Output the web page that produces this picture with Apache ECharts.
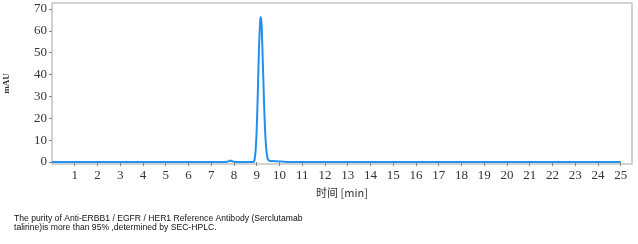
<!DOCTYPE html>
<html>
<head>
<meta charset="utf-8">
<script src="https://cdn.jsdelivr.net/npm/echarts@6/dist/echarts.min.js"></script>
<style>
html,body{margin:0;padding:0;background:#fff;}
#chart{width:638px;height:244px;}
</style>
</head>
<body>
<div id="chart"></div>
<script>
// Retention time (min) and absorbance (mAU)
var timeMin = [0, 7.5, 7.7, 7.8, 7.85, 7.9, 8.0, 8.2, 8.85, 8.9, 8.95, 9.0, 9.05, 9.1, 9.15, 9.18, 9.22, 9.27, 9.32, 9.37, 9.42, 9.47, 9.52, 9.6, 9.8, 10.0, 10.2, 10.4, 25];
var absorbance = [0, 0, 0.15, 0.5, 0.7, 0.5, 0.15, 0, 0, 0.8, 5, 15, 32, 52, 64, 66.3, 62, 45, 28, 14, 6, 2, 0.8, 0.5, 0.4, 0.3, 0.1, 0, 0];
var xTicks = [1,2,3,4,5,6,7,8,9,10,11,12,13,14,15,16,17,18,19,20,21,22,23,24,25];
var yTicks = [0,10,20,30,40,50,60,70];
var xName = '时间 [min]';
var yName = 'mAU';
var caption = ['The purity of Anti-ERBB1 / EGFR / HER1 Reference Antibody (Serclutamab', 'talirine)is more than 95% ,determined by SEC-HPLC.'];

var points = timeMin.map(function (t, i) { return [t, absorbance[i]]; });
var chart = echarts.init(document.getElementById('chart'), null, {renderer: 'canvas'});
var labelFont = {fontFamily: 'Liberation Serif', fontSize: 13, color: '#333'};
chart.setOption({
  animation: false,
  grid: {left: 52, right: 6, top: 3, bottom: 80, containLabel: false, outerBoundsMode: 'none', show: true, borderColor: '#c4c4c4', borderWidth: 1.5, backgroundColor: '#fff'},
  xAxis: {
    type: 'value', min: 0, max: 25.5,
    name: xName, nameLocation: 'middle', nameGap: 21,
    nameTextStyle: {fontFamily: 'Noto Sans CJK SC', fontSize: 11, color: '#333'},
    axisLine: {show: false},
    axisTick: {show: true, length: 4, customValues: xTicks, lineStyle: {color: '#888'}},
    axisLabel: Object.assign({customValues: xTicks, margin: 5}, labelFont),
    splitLine: {show: false}
  },
  yAxis: {
    type: 'value', min: -0.9, max: 72.7,
    name: yName, nameLocation: 'middle', nameGap: 41,
    nameTextStyle: {fontFamily: 'Liberation Serif', fontSize: 9, fontWeight: 'bold', color: '#333'},
    axisLine: {show: false},
    axisTick: {show: true, length: 3, customValues: yTicks, lineStyle: {color: '#888'}},
    axisLabel: Object.assign({customValues: yTicks, margin: 5}, labelFont),
    splitLine: {show: false}
  },
  series: [{
    type: 'line', data: points, showSymbol: false, smooth: 0.2,
    lineStyle: {color: '#2190ee', width: 2}
  }],
  graphic: [
    {type: 'text', left: 14, top: 214, style: {text: caption[0], font: '8.6px "Liberation Sans"', fill: '#111'}},
    {type: 'text', left: 14, top: 223.5, style: {text: caption[1], font: '8.6px "Liberation Sans"', fill: '#111'}}
  ]
});
</script>
</body>
</html>
